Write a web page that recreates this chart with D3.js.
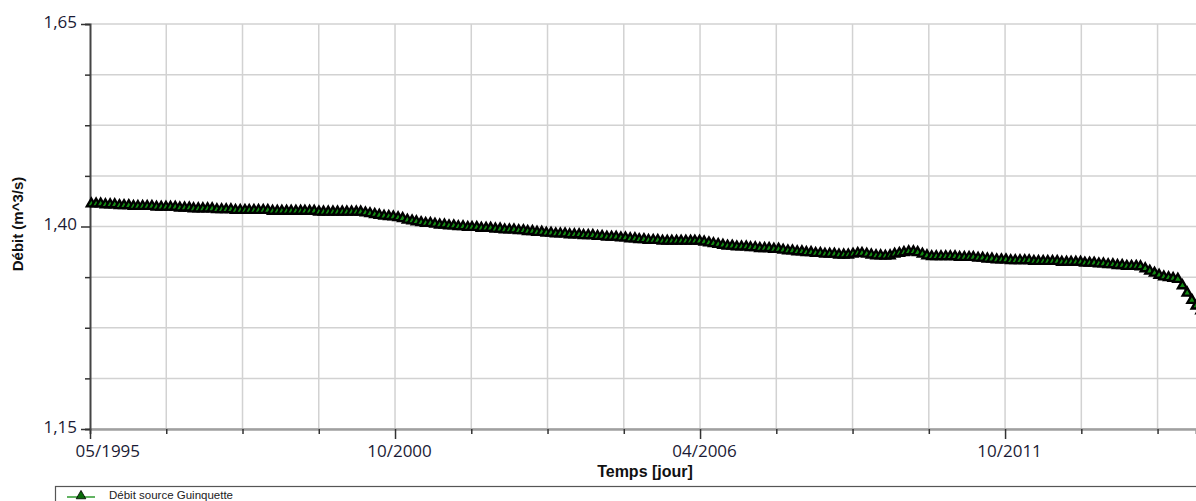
<!DOCTYPE html>
<html>
<head>
<meta charset="utf-8">
<script src="https://cdn.jsdelivr.net/npm/d3@7"></script>
<style>
  html, body { margin: 0; padding: 0; background: #fff; }
  svg { display: block; }
</style>
</head>
<body>
<svg id="chart" width="1196" height="501"></svg>
<script>
// ---- data ----
const seriesName = "Débit source Guinquette";
const seriesStart = "1995-05-10";   // first monthly value
// monthly flow values (m^3/s)
const values1995 = [1.428,1.428,1.428,1.427,1.427,1.427,1.426,1.426];
const values1996 = [1.426,1.425,1.425,1.425,1.425,1.425,1.424,1.424,1.424,1.424,1.424,1.423];
const values1997 = [1.423,1.423,1.422,1.422,1.422,1.422,1.422,1.421,1.421,1.421,1.421,1.420];
const values1998 = [1.420,1.420,1.420,1.420,1.420,1.420,1.420,1.419,1.419,1.419,1.419,1.419];
const values1999 = [1.419,1.419,1.419,1.419,1.419,1.418,1.418,1.418,1.418,1.418,1.418,1.418];
const values2000 = [1.418,1.418,1.418,1.417,1.416,1.415,1.414,1.413,1.4125,1.412,1.411,1.410];
const values2001 = [1.408,1.407,1.406,1.405,1.404,1.404,1.403,1.402,1.402,1.401,1.401,1.400];
const values2002 = [1.400,1.399,1.399,1.399,1.398,1.398,1.398,1.397,1.397,1.396,1.396,1.396];
const values2003 = [1.395,1.395,1.394,1.394,1.393,1.393,1.392,1.392,1.391,1.391,1.391,1.390];
const values2004 = [1.390,1.390,1.389,1.389,1.389,1.388,1.388,1.387,1.387,1.387,1.386,1.386];
const values2005 = [1.385,1.385,1.384,1.384,1.383,1.383,1.383,1.382,1.382,1.382,1.382,1.382];
const values2006 = [1.382,1.382,1.382,1.382,1.381,1.380,1.379,1.378,1.377,1.376,1.376,1.375];
const values2007 = [1.375,1.375,1.374,1.374,1.373,1.373,1.373,1.372,1.372,1.371,1.370,1.370];
const values2008 = [1.369,1.369,1.368,1.368,1.367,1.367,1.366,1.366,1.366,1.365,1.365,1.365];
const values2009 = [1.366,1.367,1.367,1.366,1.365,1.364,1.364,1.3635,1.364,1.366,1.367,1.368];
const values2010 = [1.369,1.369,1.368,1.366,1.364,1.363,1.363,1.363,1.363,1.363,1.363,1.362];
const values2011 = [1.362,1.362,1.362,1.361,1.361,1.360,1.360,1.359,1.359,1.359,1.358,1.358];
const values2012 = [1.358,1.358,1.358,1.357,1.357,1.357,1.357,1.357,1.357,1.356,1.356,1.356];
const values2013 = [1.356,1.356,1.355,1.355,1.355,1.354,1.354,1.353,1.353,1.352,1.352,1.351];
const values2014 = [1.351,1.351,1.3505,1.348,1.345,1.3425,1.340,1.338,1.337,1.336,1.335,1.327];
const values2015 = [1.318,1.309,1.302,1.296];

const xTickStart = "1995-05-01";
const xTickStepDays = 500;
const xTickLabels = ["05/1995","10/2000","04/2006","10/2011"];
const yMajorTicks = [1.15, 1.40, 1.65];
const yMajorLabels = ["1,15","1,40","1,65"];
const yGridStep = 0.0625;
const xTitle = "Temps [jour]";
const yTitle = "Débit (m^3/s)";

// ---- build ----
const values = [].concat(values1995, values1996, values1997, values1998, values1999,
  values2000, values2001, values2002, values2003, values2004, values2005, values2006,
  values2007, values2008, values2009, values2010, values2011, values2012, values2013,
  values2014, values2015);
const parse = d3.timeParse("%Y-%m-%d");
const d0 = parse(seriesStart);
const data = values.map((v, i) => ({ date: d3.timeMonth.offset(d0, i), value: v }));

const svg = d3.select("#chart");
const mLeft = 90, mRight = 1196, mTop = 24, mBottom = 429;

const tickStart = parse(xTickStart);
const x = d3.scaleTime()
  .domain([tickStart, d3.timeDay.offset(tickStart, 7252)])
  .range([mLeft, mRight]);
const y = d3.scaleLinear().domain([1.15, 1.65]).range([mBottom, mTop]);

const xTicks = d3.range(0, 15).map(i => d3.timeDay.offset(tickStart, i * xTickStepDays))
  .filter(d => x(d) <= mRight);
const yGrid = d3.range(0, 9).map(i => 1.15 + i * yGridStep);

const fontNum = "'Open Sans', 'DejaVu Sans', sans-serif";
const fontTitle = "'Liberation Sans', Arial, sans-serif";
const labelColor = "#1b1b35";

// grid
const grid = svg.append("g");
grid.selectAll("line.v").data(xTicks.slice(1)).join("line")
  .attr("x1", d => x(d)).attr("x2", d => x(d))
  .attr("y1", mTop).attr("y2", mBottom)
  .attr("stroke", "#d2d2d2").attr("stroke-width", 1.5);
grid.selectAll("line.h").data(yGrid).join("line")
  .attr("x1", mLeft).attr("x2", mRight)
  .attr("y1", d => y(d)).attr("y2", d => y(d))
  .attr("stroke", "#d2d2d2").attr("stroke-width", 1.5);

// x axis
const xAxis = d3.axisBottom(x).tickValues(xTicks).tickSize(5).tickFormat("");
const gx = svg.append("g").attr("transform", `translate(0,${mBottom})`).call(xAxis);
gx.select(".domain").attr("stroke", "#a0a0a0").attr("stroke-width", 2.5);
gx.selectAll(".tick line").attr("stroke", "#333").attr("stroke-width", 1.5)
  .attr("y2", (d, i) => i % 4 === 0 ? 10 : 5);
gx.selectAll(".tick").filter((d, i) => i % 4 === 0).append("text")
  .text((d, i) => xTickLabels[i])
  .attr("y", 28).attr("text-anchor", "middle")
  .attr("fill", labelColor).attr("font-family", fontNum).attr("font-size", 17)
  .each(function (d) {
    const tx = x(d);
    const w = this.getComputedTextLength();
    if (tx - w / 2 < 75) d3.select(this).attr("dx", 75 - (tx - w / 2));
    else d3.select(this).attr("dx", 4);
  });

// y axis
const yAxis = d3.axisLeft(y).tickValues(yGrid).tickSize(5).tickFormat("");
const gy = svg.append("g").attr("transform", `translate(${mLeft},0)`).call(yAxis);
gy.select(".domain").attr("stroke", "#444").attr("stroke-width", 2);
gy.selectAll(".tick line").attr("stroke", "#333").attr("stroke-width", 1.5)
  .attr("x2", d => yMajorTicks.some(m => Math.abs(m - d) < 1e-6) ? -9 : -5);
gy.selectAll(".tick").filter(d => yMajorTicks.some(m => Math.abs(m - d) < 1e-6))
  .append("text")
  .text(d => yMajorLabels[yMajorTicks.findIndex(m => Math.abs(m - d) < 1e-6)])
  .attr("x", -13).attr("dy", "0.2em").attr("text-anchor", "end")
  .attr("fill", labelColor).attr("font-family", fontNum).attr("font-size", 17);

// series line (green, mostly hidden) + markers
const line = d3.line().x(d => x(d.date)).y(d => y(d.value));
svg.append("path").datum(data).attr("d", line)
  .attr("fill", "none").attr("stroke", "#2e9a2e").attr("stroke-width", 1.5);
const tri = d3.symbol().type(d3.symbolTriangle).size(36);
svg.append("g").selectAll("path").data(data).join("path")
  .attr("d", tri)
  .attr("transform", d => `translate(${x(d.date)},${y(d.value)})`)
  .attr("fill", "#128a12").attr("stroke", "#000").attr("stroke-width", 2.3)
  .attr("stroke-linejoin", "miter");

// titles
svg.append("text").text(xTitle)
  .attr("x", 645).attr("y", 477).attr("text-anchor", "middle")
  .attr("font-family", fontTitle).attr("font-weight", "bold").attr("font-size", 16)
  .attr("fill", "#111");
svg.append("text").text(yTitle)
  .attr("transform", "translate(23,224) rotate(-90)").attr("text-anchor", "middle")
  .attr("font-family", fontTitle).attr("font-weight", "bold").attr("font-size", 15)
  .attr("fill", "#111");

// legend
const lg = svg.append("g");
lg.append("rect").attr("x", 55.5).attr("y", 486.5).attr("width", 1200).attr("height", 40)
  .attr("fill", "#fff").attr("stroke", "#555").attr("stroke-width", 1.2);
lg.append("line").attr("x1", 67).attr("x2", 95).attr("y1", 497).attr("y2", 497)
  .attr("stroke", "#2e9a2e").attr("stroke-width", 1.5);
lg.append("path").attr("d", d3.symbol().type(d3.symbolTriangle).size(40))
  .attr("transform", "translate(81,496)")
  .attr("fill", "#0a6a0a").attr("stroke", "#000").attr("stroke-width", 0.8);
lg.append("text").text(seriesName)
  .attr("x", 109).attr("y", 499)
  .attr("font-family", fontTitle).attr("font-size", 11.5).attr("fill", "#222");
</script>
</body>
</html>
